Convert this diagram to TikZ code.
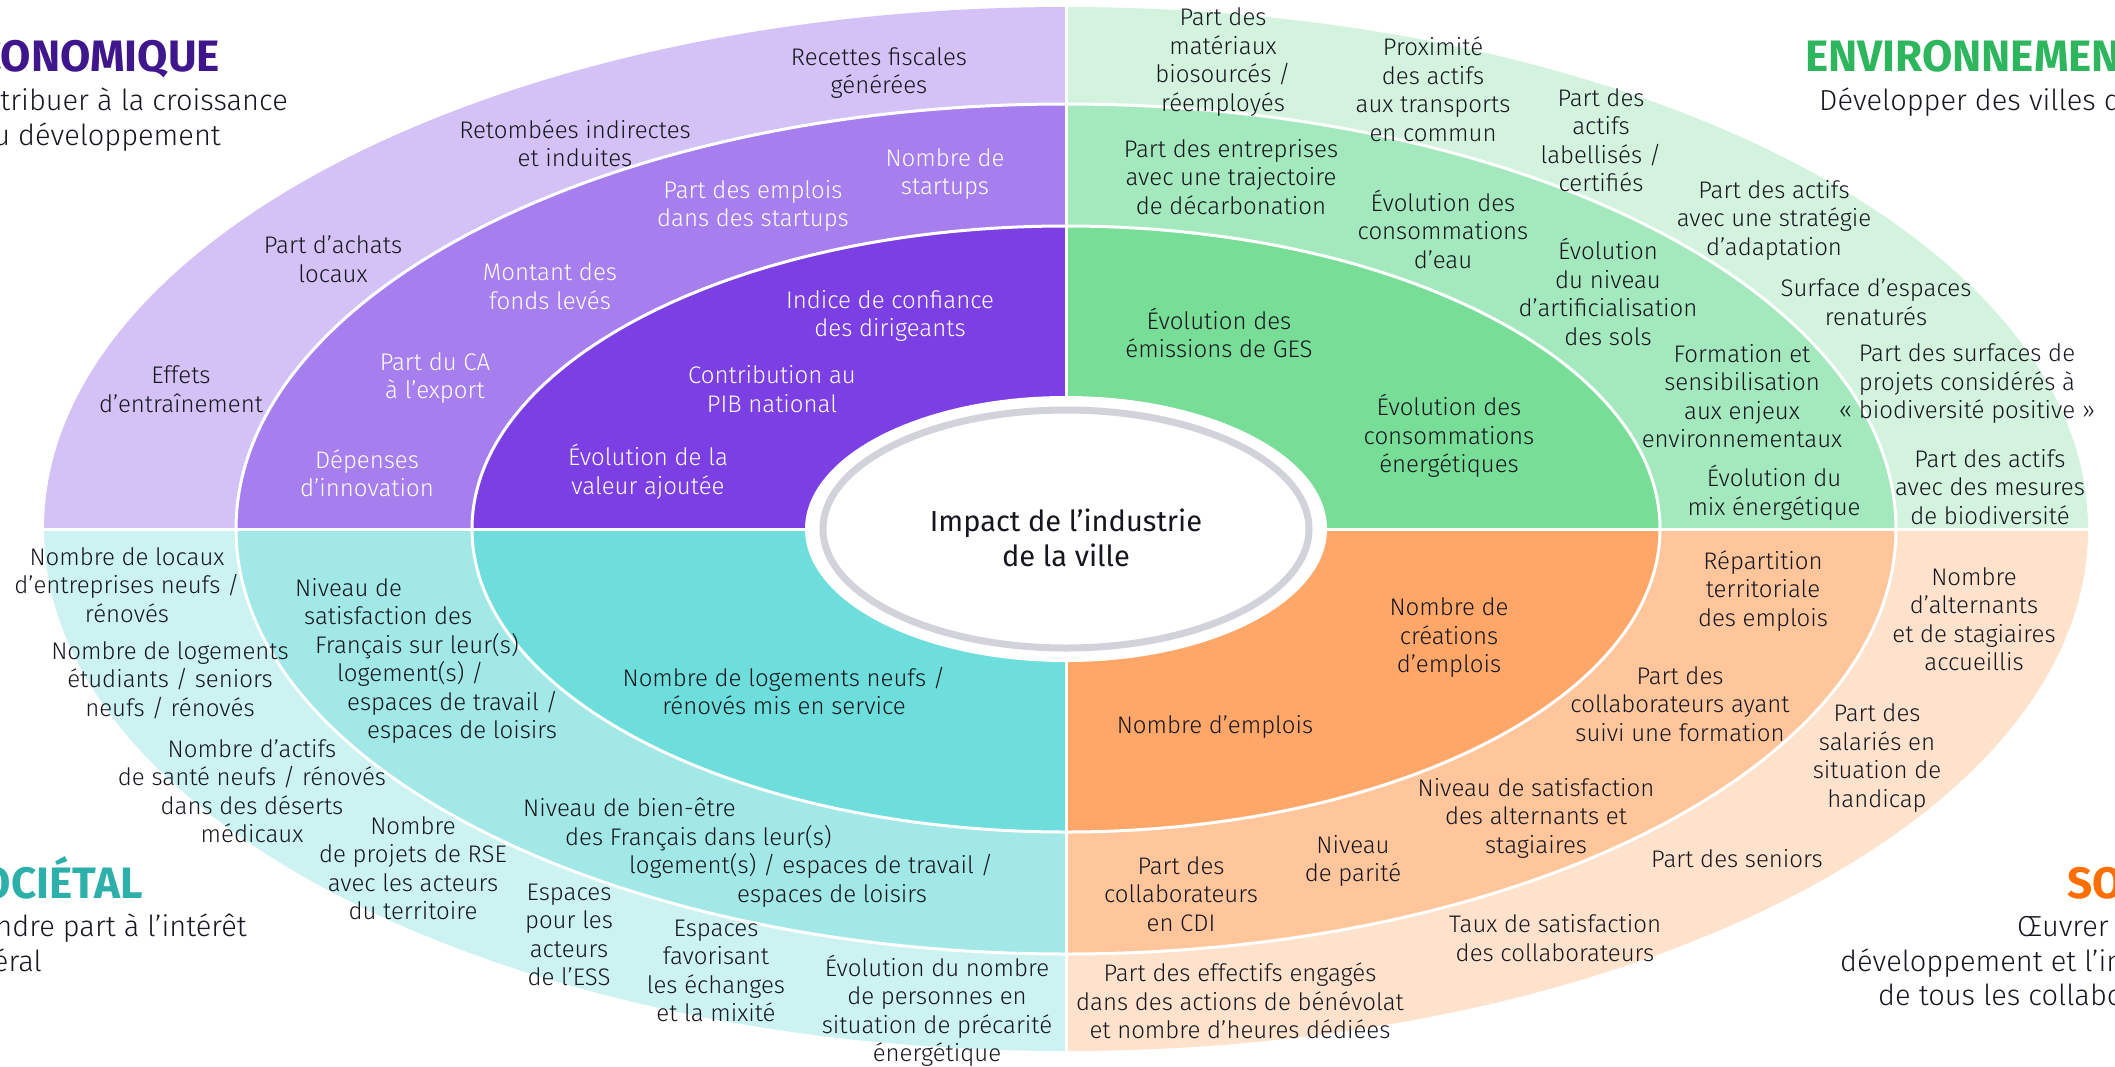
\documentclass[tikz,border=0pt]{standalone}
\usepackage{fontspec}
\setmainfont{Fira Sans Light}[BoldFont=Fira Sans Bold]
\newfontfamily\regfont{Fira Sans}
\definecolor{pO}{HTML}{D4C2F6}
\definecolor{pM}{HTML}{A77EEE}
\definecolor{pI}{HTML}{7B3FE4}
\definecolor{gO}{HTML}{D3F3DE}
\definecolor{gM}{HTML}{A4E9BE}
\definecolor{gI}{HTML}{78DD96}
\definecolor{tO}{HTML}{CCF3F2}
\definecolor{tM}{HTML}{A1E8E6}
\definecolor{tI}{HTML}{6DDEDB}
\definecolor{oO}{HTML}{FEE2CB}
\definecolor{oM}{HTML}{FFC59B}
\definecolor{oI}{HTML}{FFA769}
\definecolor{cEco}{HTML}{40168C}
\definecolor{cEnv}{HTML}{2DB65E}
\definecolor{cSoc}{HTML}{2DB0A9}
\definecolor{cSocial}{HTML}{FF6E00}
\definecolor{txt}{HTML}{16161E}
\definecolor{ringgray}{HTML}{D2D2DA}
\tikzset{
  lbl/.style={align=center, inner sep=0pt, text=txt, font=\fontsize{24}{28.5}\selectfont},
  wlbl/.style={lbl, text=white},
  ttl/.style={inner sep=0pt, font=\fontsize{44}{50}\selectfont\bfseries},
  sub/.style={inner sep=0pt, text=txt, font=\fontsize{29}{35}\selectfont},
  divider/.style={white, line width=3pt}
}
\begin{document}
\begin{tikzpicture}[x=1pt,y=-1pt]
\useasboundingbox (0,0) rectangle (2115,1066);
\coordinate (C) at (1066,529);
% quadrants
\foreach \qx/\qy/\ca/\cb/\cc in {0/0/pO/pM/pI, 2115/0/gO/gM/gI, 0/1066/tO/tM/tI, 2115/1066/oO/oM/oI}{
  \begin{scope}
    \clip (C) rectangle (\qx,\qy);
    \fill[\ca] (C) ellipse [x radius=1022, y radius=522];
    \fill[\cb] (C) ellipse [x radius=830, y radius=425];
    \fill[\cc] (C) ellipse [x radius=594, y radius=303];
  \end{scope}
}
\draw[divider] (C) ellipse [x radius=830, y radius=425];
\draw[divider] (C) ellipse [x radius=594, y radius=303];
\draw[divider] (30,529) -- (2100,529);
\draw[divider] (1066,0) -- (1066,1066);
% centre
\fill[white] (C) ellipse [x radius=261, y radius=133];
\draw[ringgray, line width=7pt] (C) ellipse [x radius=243, y radius=119];
\node[lbl, font=\regfont\fontsize{29}{35}\selectfont] (centre) at (1066,538) {Impact de l’industrie\\de la ville};

% ECONOMIQUE
\node[ttl, text=cEco, anchor=base east] (ecoT) at (220,71) {ÉCONOMIQUE};
\node[sub, anchor=base east] (ecoS1) at (288,110) {Contribuer à la croissance};
\node[sub, anchor=base east] (ecoS2) at (221,145) {et au développement};
\node[lbl] (e1) at (879,73) {Recettes fiscales\\générées};
\node[lbl] (e2) at (575,143) {Retombées indirectes\\et induites};
\node[lbl] (e3) at (333,259) {Part d’achats\\locaux};
\node[lbl] (e4) at (181,389) {Effets\\d’entraînement};
\node[wlbl] (e5) at (945,174) {Nombre de\\startups};
\node[wlbl] (e6) at (753,206) {Part des emplois\\dans des startups};
\node[wlbl] (e7) at (550,286) {Montant des\\fonds levés};
\node[wlbl] (e8) at (435,378) {Part du CA\\à l’export};
\node[wlbl] (e9) at (367,473) {Dépenses\\d’innovation};
\node[wlbl] (e10) at (890,316) {Indice de confiance\\des dirigeants};
\node[wlbl] (e11) at (772,389) {Contribution au\\PIB national};
\node[wlbl] (e12) at (648,472) {Évolution de la\\valeur ajoutée};

% ENVIRONNEMENT
\node[ttl, text=cEnv, anchor=base west] (envT) at (1805,71) {ENVIRONNEMENT};
\node[sub, anchor=base west] (envS) at (1819,110) {Développer des villes durables};
\node[lbl] (v1) at (1223,62) {Part des\\matériaux\\biosourcés /\\réemployés};
\node[lbl] (v2) at (1433,89) {Proximité\\des actifs\\aux transports\\en commun};
\node[lbl] (v3) at (1601,140) {Part des\\actifs\\labellisés /\\certifiés};
\node[lbl] (v4) at (1774,220) {Part des actifs\\avec une stratégie\\d’adaptation};
\node[lbl] (v5) at (1876,302) {Surface d’espaces\\renaturés};
\node[lbl] (v6) at (1967,384) {Part des surfaces de\\projets considérés à\\« biodiversité positive »};
\node[lbl] (v7) at (1990,487) {Part des actifs\\avec des mesures\\de biodiversité};
\node[lbl] (v8) at (1231,177) {Part des entreprises\\avec une trajectoire\\de décarbonation};
\node[lbl] (v9) at (1443,229) {Évolution des\\consommations\\d’eau};
\node[lbl] (v10) at (1608,292) {Évolution\\du niveau\\d’artificialisation\\des sols};
\node[lbl] (v11) at (1742,396) {Formation et\\sensibilisation\\aux enjeux\\environnementaux};
\node[lbl] (v12) at (1774,493) {Évolution du\\mix énergétique};
\node[lbl] (v13) at (1219,333) {Évolution des\\émissions de GES};
\node[lbl] (v14) at (1449,436) {Évolution des\\consommations\\énergétiques};

% SOCIETAL
\node[ttl, text=cSoc, anchor=base east] (socT) at (143,898) {SOCIÉTAL};
\node[sub, anchor=base east] (socS1) at (247,936) {Prendre part à l’intérêt};
\node[sub, anchor=base east] (socS2) at (42,971) {général};
\node[lbl] (s1) at (127,585) {Nombre de locaux\\d’entreprises neufs /\\rénovés};
\node[lbl] (s2) at (170,680) {Nombre de logements\\étudiants / seniors\\neufs / rénovés};
\node[lbl] (s3) at (252,791) {Nombre d’actifs\\de santé neufs / rénovés\\dans des déserts\\médicaux};
\node[lbl] (s4) at (413,868) {Nombre\\de projets de RSE\\avec les acteurs\\du territoire};
\node[lbl] (s5) at (569,935) {Espaces\\pour les\\acteurs\\de l’ESS};
\node[lbl] (s6) at (716,971) {Espaces\\favorisant\\les échanges\\et la mixité};
\node[lbl] (s7) at (937,1011) {Évolution du nombre\\de personnes en\\situation de précarité\\énergétique};
\node[lbl, align=left, anchor=north west] (s8) at (295,578) {Niveau de\\\hspace*{9pt}satisfaction des\\\hspace*{20pt}Français sur leur(s)\\\hspace*{42pt}logement(s) /\\\hspace*{52pt}espaces de travail /\\\hspace*{72pt}espaces de loisirs};
\node[lbl, align=left, anchor=north west] (s9) at (523,798) {Niveau de bien-être\\\hspace*{42pt}des Français dans leur(s)\\\hspace*{106pt}logement(s) / espaces de travail /\\\hspace*{214pt}espaces de loisirs};
\node[lbl] (s10) at (784,691) {Nombre de logements neufs /\\rénovés mis en service};

% SOCIAL
\node[ttl, text=cSocial, anchor=base west] (soT) at (2067,898) {SOCIAL};
\node[sub, anchor=base west] (soS1) at (2017,936) {Œuvrer pour le};
\node[sub, anchor=base west] (soS2) at (1840,971) {développement et l’inclusion};
\node[sub, anchor=base west] (soS3) at (1878,1005) {de tous les collaborateurs};
\node[lbl] (o1) at (1449,638) {Nombre de\\créations\\d’emplois};
\node[lbl] (o2) at (1215,727) {Nombre d’emplois};
\node[lbl] (o3) at (1763,591) {Répartition\\territoriale\\des emplois};
\node[lbl] (o4) at (1680,704) {Part des\\collaborateurs ayant\\suivi une formation};
\node[lbl] (o5) at (1536,818) {Niveau de satisfaction\\des alternants et\\stagiaires};
\node[lbl] (o6) at (1353,861) {Niveau\\de parité};
\node[lbl] (o7) at (1181,894) {Part des\\collaborateurs\\en CDI};
\node[lbl] (o8) at (1974,619) {Nombre\\d’alternants\\et de stagiaires\\accueillis};
\node[lbl] (o9) at (1877,758) {Part des\\salariés en\\situation de\\handicap};
\node[lbl] (o10) at (1737,859) {Part des seniors};
\node[lbl] (o11) at (1555,938) {Taux de satisfaction\\des collaborateurs};
\node[lbl] (o12) at (1240,1001) {Part des effectifs engagés\\dans des actions de bénévolat\\et nombre d’heures dédiées};
\end{tikzpicture}
\end{document}
